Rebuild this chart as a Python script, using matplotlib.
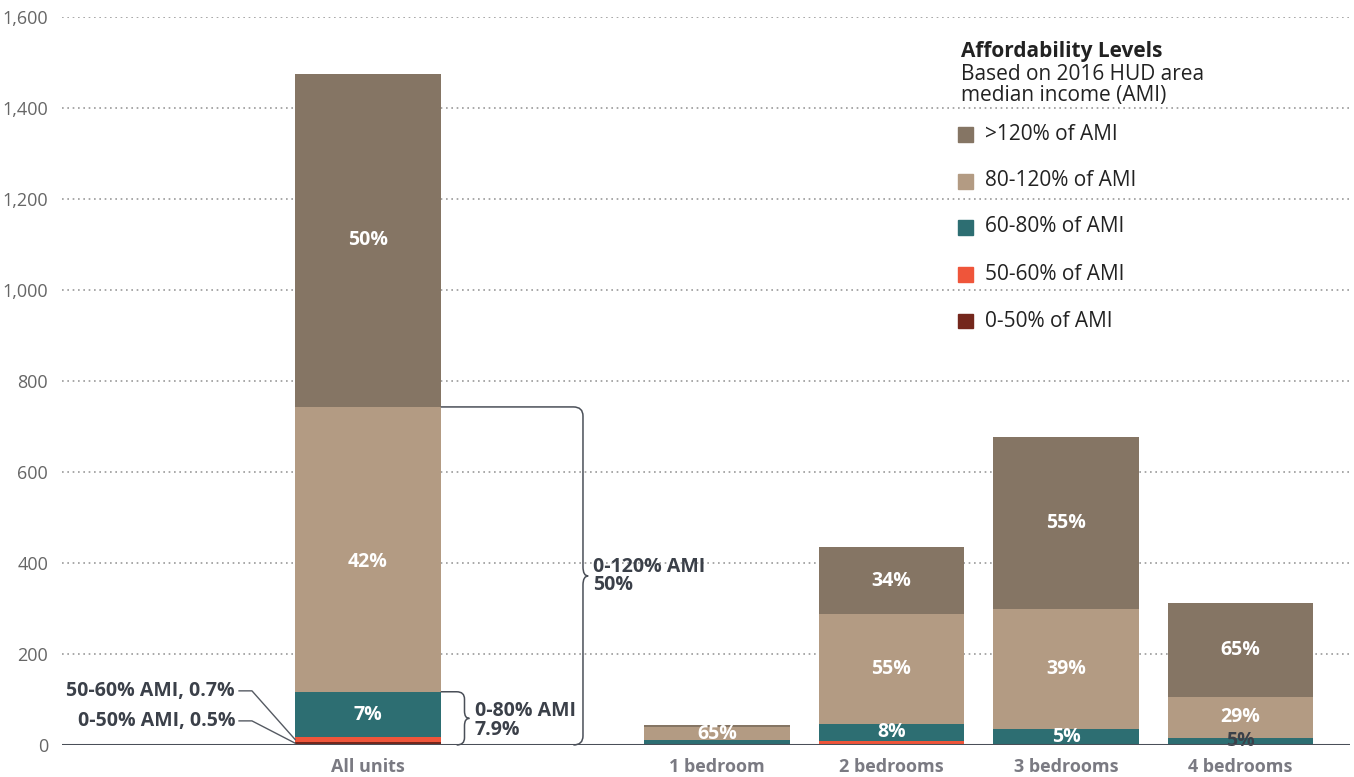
import matplotlib
matplotlib.use("Agg")
import matplotlib.pyplot as plt
from matplotlib.path import Path
from matplotlib.patches import PathPatch, Rectangle
import numpy as np

plt.rcParams['font.family'] = ['Open Sans', 'DejaVu Sans']

# ---------------- data ----------------
categories = ["All units", "1 bedroom", "2 bedrooms", "3 bedrooms", "4 bedrooms"]
positions = [0, 2, 3, 4, 5]
levels = ["0-50% of AMI", "50-60% of AMI", "60-80% of AMI", "80-120% of AMI", ">120% of AMI"]
ami_0_50 = [7, 0, 2, 0, 0]
ami_50_60 = [10, 0, 7, 0, 0]
ami_60_80 = [100, 10, 37, 35, 16]
ami_80_120 = [626, 30, 242, 264, 90]
ami_120_plus = [732, 4, 147, 378, 206]
series = [ami_0_50, ami_50_60, ami_60_80, ami_80_120, ami_120_plus]
colors = ["#74271c", "#ef553a", "#2d6e72", "#b39b83", "#857564"]

# segment labels: (category index, level index, text, colour, vertical nudge in data units)
seg_labels = [
    (0, 4, "50%", "white", 0), (0, 3, "42%", "white", -28), (0, 2, "7%", "white", 0),
    (1, 3, "65%", "white", 0),
    (2, 4, "34%", "white", 0), (2, 3, "55%", "white", 0), (2, 2, "8%", "white", 0),
    (3, 4, "55%", "white", 0), (3, 3, "39%", "white", 0), (3, 2, "5%", "white", 0),
    (4, 4, "65%", "white", 0), (4, 3, "29%", "white", 0), (4, 2, "5%", "#3b4049", 0),
]
yticks = [0, 200, 400, 600, 800, 1000, 1200, 1400, 1600]
ytick_labels = ["0", "200", "400", "600", "800", "1,000", "1,200", "1,400", "1,600"]

# ---------------- figure ----------------
W, H = 1354, 777
fig = plt.figure(figsize=(W / 100, H / 100), dpi=100)
ax_left, ax_right, ax_bottom, ax_top = 62, 1350, 745, 17
ax = fig.add_axes([ax_left / W, 1 - ax_bottom / H, (ax_right - ax_left) / W, (ax_bottom - ax_top) / H])

unit = 174.5
x0px = 368
ax.set_xlim((ax_left - x0px) / unit, (ax_right - x0px) / unit)
ax.set_ylim(0, 1600)

width = 0.835
bottoms = np.zeros(len(categories))
bars = []
for vals, col, lab in zip(series, colors, levels):
    b = ax.bar(positions, vals, width, bottom=bottoms, color=col, label=lab, zorder=3, linewidth=0)
    bars.append(b)
    bottoms = bottoms + np.array(vals)

cum = np.cumsum(np.array(series), axis=0)
for ci, li, txt, colr, dy in seg_labels:
    top = cum[li][ci]
    bot = top - series[li][ci]
    ax.text(positions[ci], (top + bot) / 2 + dy, txt, ha="center", va="center",
            color=colr, fontsize=14, fontweight="bold", zorder=5)

# grid & axes
for s in ax.spines.values():
    s.set_visible(False)
ax.set_yticks(yticks)
ax.set_yticklabels(ytick_labels, color="#666666", fontsize=13)
ax.tick_params(axis="y", length=0, pad=10)
ax.yaxis.grid(True, linestyle=(0, (1, 2.2)), color="#9a9a9a", linewidth=1.2, zorder=0)
ax.set_axisbelow(True)
ax.axhline(0, color="#4a4f58", linewidth=2.2, zorder=6)
ax.set_xticks(positions)
ax.set_xticklabels(categories, color="#7a7a82", fontsize=13, fontweight="bold")
ax.tick_params(axis="x", length=0, pad=9)

# ---------------- annotations ----------------
ink = "#3b4049"


def brace(x, y0, y1, x_start, rx=0.05, ry=18, tip=0.03, lw=1.1):
    ym = (y0 + y1) / 2
    verts = [(x_start, y1), (x - rx, y1), (x, y1), (x, y1 - ry),
             (x, ym + ry), (x, ym), (x + tip, ym), (x, ym), (x, ym - ry),
             (x, y0 + ry), (x, y0), (x - rx, y0)]
    codes = [Path.MOVETO, Path.LINETO, Path.CURVE3, Path.CURVE3,
             Path.LINETO, Path.CURVE3, Path.CURVE3, Path.CURVE3, Path.CURVE3,
             Path.LINETO, Path.CURVE3, Path.CURVE3]
    ax.add_patch(PathPatch(Path(verts, codes), fill=False, edgecolor="#4a4f58",
                           linewidth=lw, zorder=4, clip_on=False))


bar_right = positions[0] + width / 2
bar_left = positions[0] - width / 2
top120 = cum[3][0]
top80 = cum[2][0]
brace(1.232, 0, top120, bar_right, rx=0.055, ry=20, tip=0.03)
ax.text(1.29, top120 / 2, "0-120% AMI\n50%", ha="left", va="center", color=ink,
        fontsize=14, fontweight="bold", linespacing=0.9, zorder=5)
brace(0.553, 0, top80, bar_right, rx=0.045, ry=16, tip=0.028)
ax.text(0.612, 54, "0-80% AMI\n7.9%", ha="left", va="center", color=ink,
        fontsize=14, fontweight="bold", linespacing=0.9, zorder=5)

# leader lines on the left
for txt, ty, ey in [("50-60% AMI, 0.7%", 119, 12), ("0-50% AMI, 0.5%", 53, 4)]:
    ax.text(-0.762, ty, txt, ha="right", va="center", color=ink, fontsize=14,
            fontweight="bold", zorder=5)
    ax.plot([-0.739, -0.665, bar_left], [ty, ty, ey], color="#555a62", linewidth=1.0,
            zorder=6, clip_on=False)

# ---------------- legend ----------------
def fx(px):
    return px / W


def fy(py):
    return 1 - py / H


fig.text(fx(961), fy(51), "Affordability Levels", ha="left", va="center",
         fontsize=15, fontweight="bold", color="#222222")
fig.text(fx(961), fy(75), "Based on 2016 HUD area", ha="left", va="center",
         fontsize=15, color="#222222")
fig.text(fx(961), fy(96), "median income (AMI)", ha="left", va="center",
         fontsize=15, color="#222222")
leg_y = [134, 181, 227, 274, 321]
for i, yy in enumerate(leg_y):
    li = 4 - i
    fig.patches.append(Rectangle((fx(958), fy(yy + 7.5)), 15 / W, 15 / H,
                                 transform=fig.transFigure, color=colors[li], zorder=5))
    fig.text(fx(985), fy(yy), levels[li], ha="left", va="center", fontsize=15,
             color="#222222")

fig.savefig("out.png", dpi=100)
